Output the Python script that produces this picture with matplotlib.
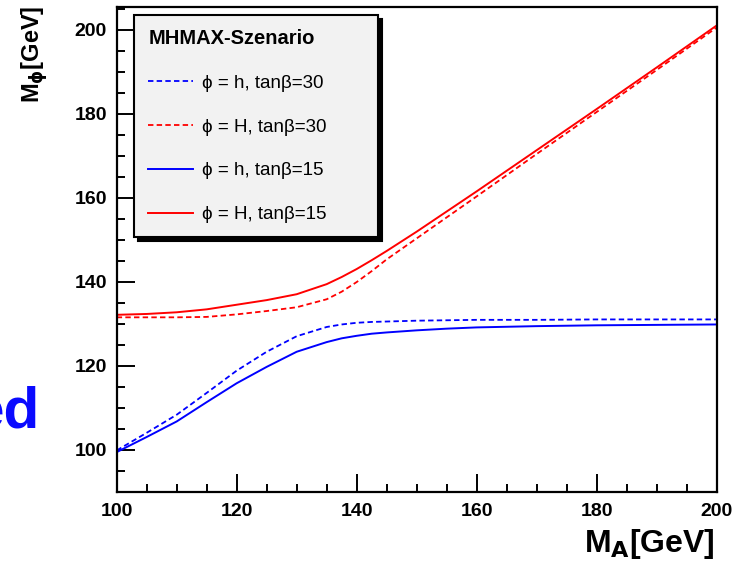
import matplotlib
matplotlib.use("Agg")
import matplotlib.pyplot as plt
from matplotlib.ticker import MultipleLocator

plt.rcParams["font.family"] = ["Liberation Sans", "DejaVu Sans"]

# M_A values (GeV)
m_a = [100, 105, 110, 115, 120, 125, 130, 135, 137.5, 140, 142.5, 145, 150,
       155, 160, 170, 180, 190, 200]

# phi = h, tan(beta) = 30
h_tb30 = [99.8, 104.0, 108.3, 113.5, 118.8, 123.3, 127.0, 129.2, 129.8, 130.2,
          130.4, 130.5, 130.7, 130.8, 130.9, 130.9, 131.0, 131.0, 131.0]
# phi = H, tan(beta) = 30
H_tb30 = [131.5, 131.5, 131.5, 131.6, 132.2, 133.0, 133.9, 135.8, 137.6, 139.9,
          142.5, 145.3, 150.3, 155.3, 160.3, 170.4, 180.4, 190.4, 200.5]
# phi = h, tan(beta) = 15
h_tb15 = [99.4, 103.0, 106.7, 111.3, 115.8, 119.7, 123.3, 125.6, 126.5, 127.1,
          127.6, 127.9, 128.4, 128.8, 129.1, 129.4, 129.6, 129.7, 129.8]
# phi = H, tan(beta) = 15
H_tb15 = [132.1, 132.3, 132.7, 133.4, 134.5, 135.6, 137.0, 139.4, 141.1, 143.0,
          145.1, 147.3, 151.9, 156.7, 161.5, 171.3, 181.1, 191.0, 201.0]

labels = ["ϕ = h, tanβ=30", "ϕ = H, tanβ=30", "ϕ = h, tanβ=15", "ϕ = H, tanβ=15"]

fig = plt.figure(figsize=(7.46, 5.69), dpi=100)
ax = fig.add_axes([0.1564, 0.1353, 0.8043, 0.8524])

dash = (0, (3, 1.8))
ax.plot(m_a, h_tb30, color="#0000ff", lw=1.3, linestyle=dash, label=labels[0])
ax.plot(m_a, H_tb30, color="#ff0000", lw=1.3, linestyle=dash, label=labels[1])
ax.plot(m_a, h_tb15, color="#0000ff", lw=1.4, label=labels[2])
ax.plot(m_a, H_tb15, color="#ff0000", lw=1.4, label=labels[3])

ax.set_xlim(100, 200)
ax.set_ylim(89.9, 205.4)
ax.xaxis.set_major_locator(MultipleLocator(20))
ax.xaxis.set_minor_locator(MultipleLocator(5))
ax.yaxis.set_major_locator(MultipleLocator(20))
ax.yaxis.set_minor_locator(MultipleLocator(5))
ax.tick_params(which="both", direction="in", top=False, right=False, width=1.4)
ax.tick_params(which="major", length=13)
ax.tick_params(which="minor", length=6)
ax.tick_params(axis="y", labelsize=14, pad=7)
ax.tick_params(axis="x", labelsize=14, pad=8)
for lab in ax.get_xticklabels() + ax.get_yticklabels():
    lab.set_fontweight("bold")
for sp in ax.spines.values():
    sp.set_linewidth(1.6)

fig.text(0.958, 0.014, "M$_\\mathbf{A}$[GeV]", ha="right", va="bottom",
         fontsize=23, fontweight="bold")
fig.text(0.026, 0.99, "M$_\\mathbf{ϕ}$[GeV]", ha="left", va="top",
         rotation=90, fontsize=17, fontweight="bold")

# stray slide text at the left edge
fig.text(0.054, 1 - 428 / 569, "ed", ha="right", va="baseline",
         fontsize=42, fontweight="bold", color="#0a0aff")

leg = ax.legend(loc="upper left", bbox_to_anchor=(0.029, 0.534, 0.4067, 0.4495),
                mode="expand", borderaxespad=0, title="MHMAX-Szenario",
                fontsize=13.5,
                title_fontproperties={"size": 14.5, "weight": "bold"},
                labelspacing=1.42, handlelength=2.4, handletextpad=0.45,
                borderpad=0.75, fancybox=False, framealpha=1,
                facecolor="#f2f2f2", edgecolor="black",
                shadow={"color": "black", "alpha": 1, "ox": 3, "oy": -3})
leg.get_frame().set_linewidth(1.5)
leg._legend_box.align = "left"

fig.savefig("out.png", dpi=100)
